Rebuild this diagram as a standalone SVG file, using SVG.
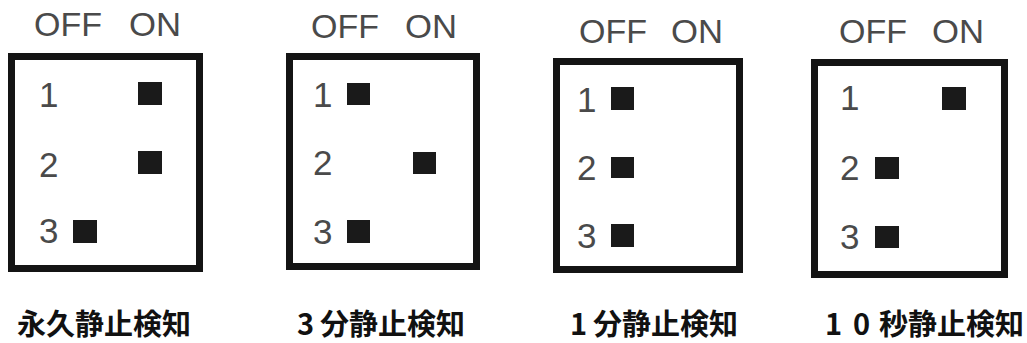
<svg xmlns="http://www.w3.org/2000/svg" width="1027" height="343" viewBox="0 0 1027 343">
<style>
.box{fill:#fff;stroke:#141414;stroke-width:7}
.lab{font-family:"Liberation Sans",Arial,sans-serif;font-size:33px;fill:#4a4a4a}
.num{font-family:"Liberation Sans",Arial,sans-serif;font-size:35px;fill:#4a4a4a}
.sq{fill:#1a1a1a}
.cap{font-family:"Noto Sans CJK JP","Noto Sans",sans-serif;font-size:29px;font-weight:bold;fill:#111}
</style>
<rect width="1027" height="343" fill="#fff"/>
<g id="sw1">
<text class="lab" x="34" y="36" textLength="68" lengthAdjust="spacingAndGlyphs">OFF</text><text class="lab" x="129" y="36" textLength="52" lengthAdjust="spacingAndGlyphs">ON</text>
<rect class="box" x="11.5" y="56.5" width="188" height="212"/>
<text class="num" x="39" y="107">1</text><rect class="sq" x="138" y="82" width="24" height="23"/>
<text class="num" x="39" y="177">2</text><rect class="sq" x="138" y="151" width="24" height="23"/>
<text class="num" x="39" y="243">3</text><rect class="sq" x="73" y="220" width="24" height="23"/>
<text class="cap" x="17" y="335">永久静止検知</text>
</g>
<g id="sw2">
<text class="lab" x="311" y="38" textLength="68" lengthAdjust="spacingAndGlyphs">OFF</text><text class="lab" x="405" y="38" textLength="52" lengthAdjust="spacingAndGlyphs">ON</text>
<rect class="box" x="289.5" y="56.5" width="187" height="210"/>
<text class="num" x="313" y="107">1</text><rect class="sq" x="347" y="83" width="23" height="22"/>
<text class="num" x="313" y="175">2</text><rect class="sq" x="413" y="152" width="23" height="22"/>
<text class="num" x="313" y="244">3</text><rect class="sq" x="347" y="220" width="23" height="23"/>
<text class="cap" x="297" y="335">3 <tspan x="320">分静止検知</tspan></text>
</g>
<g id="sw3">
<text class="lab" x="579" y="43" textLength="68" lengthAdjust="spacingAndGlyphs">OFF</text><text class="lab" x="671" y="43" textLength="52" lengthAdjust="spacingAndGlyphs">ON</text>
<rect class="box" x="556.5" y="61.5" width="183" height="208"/>
<text class="num" x="577" y="112">1</text><rect class="sq" x="611" y="87" width="23" height="23"/>
<text class="num" x="577" y="180">2</text><rect class="sq" x="611" y="157" width="23" height="21"/>
<text class="num" x="577" y="248">3</text><rect class="sq" x="611" y="224" width="23" height="23"/>
<text class="cap" x="570" y="335">1 <tspan x="593">分静止検知</tspan></text>
</g>
<g id="sw4">
<text class="lab" x="839" y="43" textLength="68" lengthAdjust="spacingAndGlyphs">OFF</text><text class="lab" x="932" y="43" textLength="52" lengthAdjust="spacingAndGlyphs">ON</text>
<rect class="box" x="814.5" y="62.5" width="190" height="212"/>
<text class="num" x="840" y="110">1</text><rect class="sq" x="942" y="87" width="24" height="23"/>
<text class="num" x="840" y="180">2</text><rect class="sq" x="875" y="157" width="24" height="22"/>
<text class="num" x="840" y="249">3</text><rect class="sq" x="875" y="226" width="24" height="22"/>
<text class="cap" x="825" y="335">1 <tspan x="853">0</tspan><tspan x="879">秒静止検知</tspan></text>
</g>
</svg>
